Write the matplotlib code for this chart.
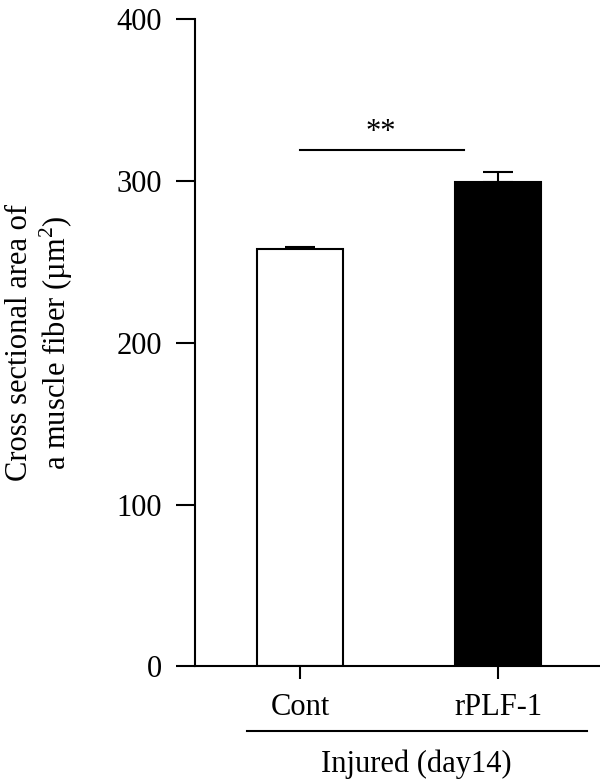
import matplotlib
matplotlib.use("Agg")
import matplotlib.pyplot as plt
import matplotlib.transforms as mtransforms

plt.rcParams['font.family'] = ['Liberation Serif', 'DejaVu Serif']
plt.rcParams['mathtext.fontset'] = 'custom'
plt.rcParams['mathtext.rm'] = 'Liberation Serif'

categories = ["Cont", "rPLF-1"]
means = [258, 299.5]
errors = [1.2, 6]
fill_colors = ["white", "black"]
y_ticks = [0, 100, 200, 300, 400]
group_label = "Injured (day14)"
ylabel = "Cross sectional area of\na muscle fiber (\u00b5m$^{2}$)"
sig_text = "**"

FS = 22
LW = 1.5

fig = plt.figure(figsize=(6, 7.83), dpi=100)
ax = fig.add_axes([0.325, 0.149, 0.675, 0.8267])

x = list(range(len(categories)))
ax.bar(x, means, width=0.43, color=fill_colors, edgecolor="black", linewidth=LW, zorder=2)
ax.errorbar(x, means, yerr=[[0, 0], errors], fmt="none", ecolor="black",
            elinewidth=LW, capsize=10.5, capthick=LW, zorder=1)

ax.set_xlim(-0.53, 1.515)
ax.set_ylim(0, 400)
ax.set_yticks(y_ticks)
ax.set_xticks(x)
ax.set_xticklabels(categories)

for s in ["top", "right"]:
    ax.spines[s].set_visible(False)
for s in ["left", "bottom"]:
    ax.spines[s].set_linewidth(LW)

ax.tick_params(axis="y", length=13.7, width=LW, pad=10, labelsize=FS)
ax.tick_params(axis="x", length=9.4, width=LW, pad=10, labelsize=FS)

# significance bar
ax.plot([0, 0.83], [319.3, 319.3], color="black", linewidth=LW)
ax.text(0.41, 321, sig_text, ha="center", va="bottom", fontsize=FS)

# group line and label
trans = mtransforms.blended_transform_factory(ax.transData, ax.transAxes)
ax.plot([-0.268, 1.449], [-0.1, -0.1], color="black", linewidth=LW,
        transform=trans, clip_on=False)
ax.text(0.59, -0.128, group_label, ha="center", va="top", fontsize=FS,
        transform=trans)

fig.text(40 / 600, (783 - 343) / 783, ylabel, rotation=90, ha="center", va="center",
         multialignment="center", fontsize=FS, linespacing=1.12)

fig.savefig("out.png", dpi=100)
